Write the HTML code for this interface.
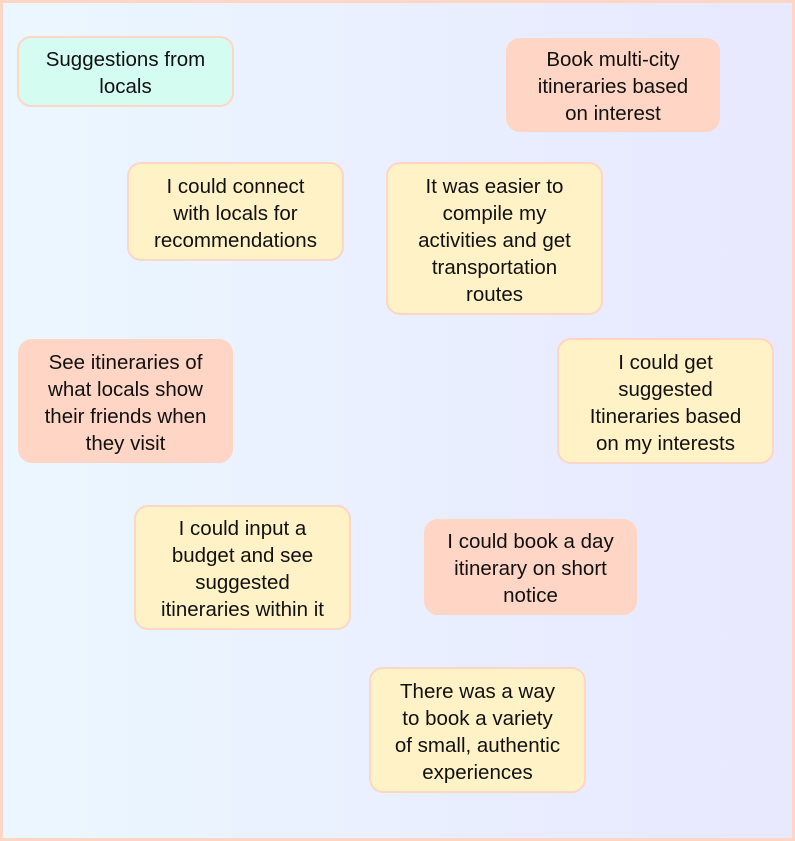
<!DOCTYPE html>
<html><head><meta charset="utf-8"><style>
html,body{margin:0;padding:0;}
body{width:795px;height:841px;position:relative;overflow:hidden;}
.bg{position:absolute;left:0;top:0;width:789px;height:835px;border:3px solid #ffd5c5;background:linear-gradient(90deg,#ebf7ff 0%,#e8e8ff 100%);}
.n{position:absolute;box-sizing:border-box;border:2px solid #ffd5c5;border-radius:14px;display:flex;align-items:center;justify-content:center;text-align:center;font-family:"Liberation Sans",sans-serif;font-size:20.5px;line-height:27px;color:#111;padding-top:3px;white-space:nowrap;}
.g{background:#d4fcf1}.s{background:#ffd5c5}.y{background:#fff2c7}
</style></head><body>
<div class="bg"></div>
<div class="n g" style="left:17px;top:36px;width:217px;height:71px">Suggestions from<br>locals</div>
<div class="n s" style="left:506px;top:38px;width:214px;height:94px">Book multi-city<br>itineraries based<br>on interest</div>
<div class="n y" style="left:127px;top:162px;width:217px;height:99px">I could connect<br>with locals for<br>recommendations</div>
<div class="n y" style="left:386px;top:162px;width:217px;height:153px">It was easier to<br>compile my<br>activities and get<br>transportation<br>routes</div>
<div class="n s" style="left:18px;top:339px;width:215px;height:124px">See itineraries of<br>what locals show<br>their friends when<br>they visit</div>
<div class="n y" style="left:557px;top:338px;width:217px;height:126px">I could get<br>suggested<br>Itineraries based<br>on my interests</div>
<div class="n y" style="left:134px;top:505px;width:217px;height:125px">I could input a<br>budget and see<br>suggested<br>itineraries within it</div>
<div class="n s" style="left:424px;top:519px;width:213px;height:96px">I could book a day<br>itinerary on short<br>notice</div>
<div class="n y" style="left:369px;top:667px;width:217px;height:126px">There was a way<br>to book a variety<br>of small, authentic<br>experiences</div>
</body></html>
